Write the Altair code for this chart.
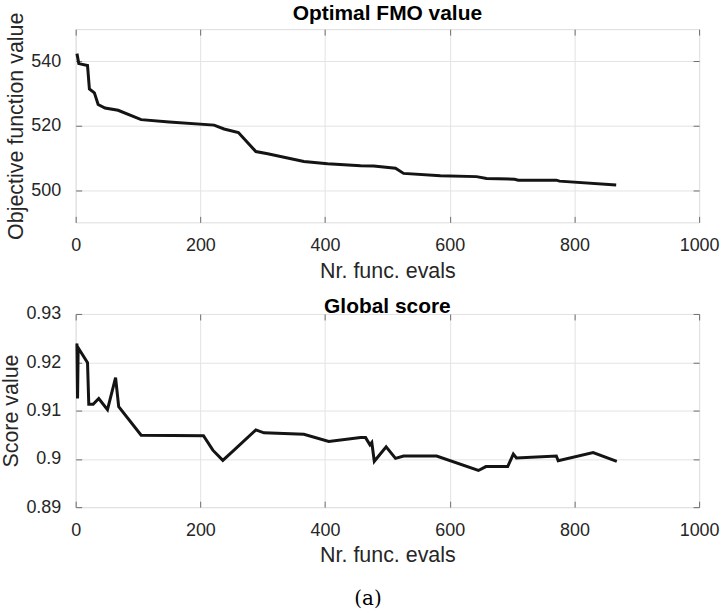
import altair as alt
import pandas as pd

# ---- data ----
top_x = [2, 5, 19, 22, 30, 36, 47, 68, 105, 150, 222, 238, 261, 289, 308, 366, 404,
         457, 478, 513, 526, 585, 643, 659, 704, 710, 771, 776, 867]
top_y = [542.4, 539.3, 538.7, 531.4, 530.2, 526.6, 525.5, 524.8, 521.9, 521.2, 520.2,
         519.0, 517.9, 512.0, 511.3, 508.9, 508.2, 507.6, 507.5, 506.8, 505.2, 504.5,
         504.2, 503.6, 503.4, 503.1, 503.1, 502.8, 501.6]

bot_x = [2, 3, 4, 19, 21, 28, 37, 51, 64, 69, 105, 205, 220, 236, 254, 289, 302, 366,
         406, 457, 465, 472, 475, 479, 498, 513, 526, 579, 646, 658, 693, 702, 707,
         771, 774, 830, 868]
bot_y = [0.9239, 0.9125, 0.9230, 0.9199, 0.9113, 0.9113, 0.9125, 0.9102, 0.9168,
         0.9108, 0.9049, 0.9048, 0.9018, 0.8997, 0.9018, 0.9060, 0.9054, 0.9051,
         0.9036, 0.9044, 0.9044, 0.9029, 0.9034, 0.8995, 0.9025, 0.9001, 0.9006,
         0.9006, 0.8976, 0.8984, 0.8984, 0.9010, 0.9002, 0.9006, 0.8996, 0.9013,
         0.8995]

x_ticks = [0, 200, 400, 600, 800, 1000]
top_ticks = [500, 520, 540]
bot_ticks = [0.89, 0.90, 0.91, 0.92, 0.93]

FONT = "Liberation Sans"
BOX = "#6e6e6e"
TXT = "#262626"
W, H = 626, 194
TL = 6


def panel(xs, ys, ydomain, yticks, yfmt, title, ytitle):
    df = pd.DataFrame({"x": xs, "v": ys})
    xs_ = alt.Scale(domain=[0, 1000], nice=False)
    ys_ = alt.Scale(domain=ydomain, nice=False, zero=False)
    base = alt.Chart(df)

    main = base.mark_line(color="#141414", strokeWidth=3).encode(
        x=alt.X("x:Q", scale=xs_, axis=alt.Axis(
            values=x_ticks, format="d", title="Nr. func. evals", grid=True,
            ticks=False, domain=False, labelPadding=14, titlePadding=6,
            labelFontSize=18, titleFontSize=21.5, labelColor=TXT, titleColor=TXT,
            labelFont=FONT, titleFont=FONT, titleFontWeight="normal",
            gridColor="#e3e3e3", labelFlush=False)),
        y=alt.Y("v:Q", scale=ys_, axis=alt.Axis(
            values=yticks, format=yfmt, title=ytitle, grid=True,
            ticks=False, domain=False, labelPadding=15, titlePadding=3,
            labelFontSize=18, titleFontSize=21.5, labelColor=TXT, titleColor=TXT,
            labelFont=FONT, titleFont=FONT, titleFontWeight="normal",
            gridColor="#e3e3e3", labelFlush=False)),
    )

    def tick_axis(orient, vals):
        return alt.Axis(orient=orient, values=vals, labels=False, title=None,
                        grid=False, domain=False, ticks=True, tickSize=TL,
                        offset=-TL, tickColor=BOX, tickWidth=1, minExtent=0)

    inner1 = base.mark_line(strokeOpacity=0).encode(
        x=alt.X("x:Q", scale=xs_, axis=tick_axis("bottom", x_ticks)),
        y=alt.Y("v:Q", scale=ys_, axis=tick_axis("left", yticks)),
    )
    inner2 = base.mark_line(strokeOpacity=0).encode(
        x=alt.X("x:Q", scale=xs_, axis=tick_axis("top", x_ticks)),
        y=alt.Y("v:Q", scale=ys_, axis=tick_axis("right", yticks)),
    )

    return alt.layer(main, inner1, inner2).resolve_axis(
        x="independent", y="independent"
    ).properties(
        width=W, height=H,
        title=alt.TitleParams(title, font=FONT, fontSize=21, fontWeight="bold",
                              color="#000000", offset=-12, anchor="middle",
                              frame="group"),
    )


top = panel(top_x, top_y, [490, 550], top_ticks, "d", "Optimal FMO value",
            "Objective function value")
bot = panel(bot_x, bot_y, [0.89, 0.93], bot_ticks, ".2~f", "Global score",
            "Score value")

chart = alt.vconcat(top, bot, spacing=92, bounds="flush").properties(
    title=alt.TitleParams("(a)", orient="bottom", font="DejaVu Serif",
                          fontSize=20, fontWeight="normal", color="#000000",
                          anchor="middle", offset=22, dx=8),
    padding={"left": 0, "top": 1, "right": 3, "bottom": 3},
).configure_view(stroke=BOX, strokeWidth=1).configure(background="white")

chart.save("out.html", embed_options={"renderer": "svg", "actions": False})
